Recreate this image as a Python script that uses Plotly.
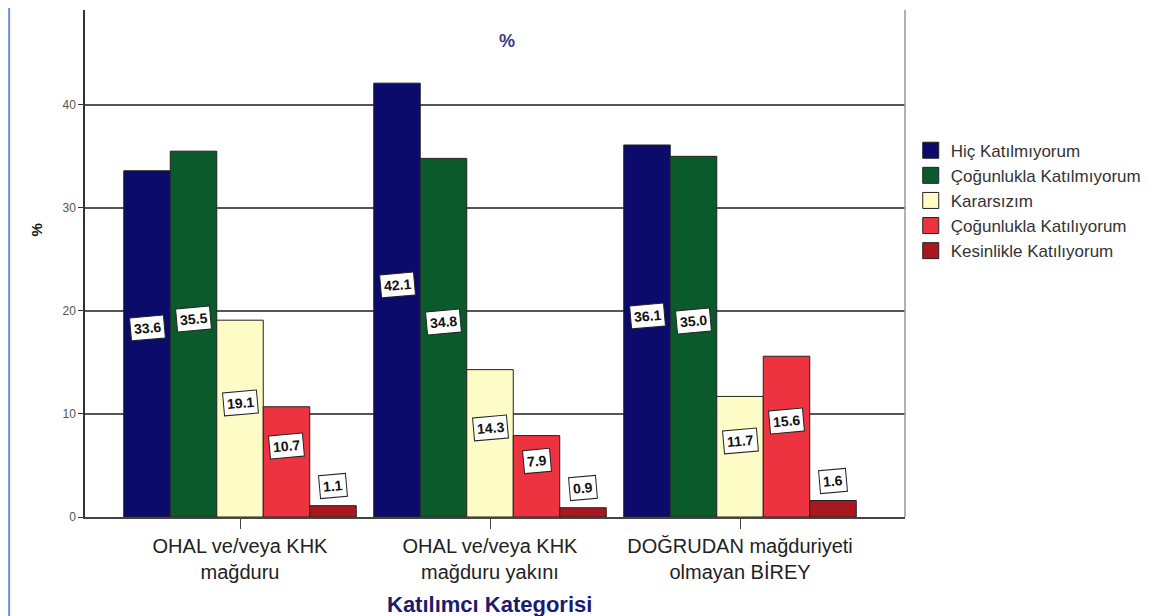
import plotly.graph_objects as go

categories = ["OHAL ve/veya KHK<br>mağduru", "OHAL ve/veya KHK<br>mağduru yakını", "DOĞRUDAN mağduriyeti<br>olmayan BİREY"]
series_names = ["Hiç Katılmıyorum", "Çoğunlukla Katılmıyorum", "Kararsızım", "Çoğunlukla Katılıyorum", "Kesinlikle Katılıyorum"]
hic = [33.6, 42.1, 36.1]
cogunlukla_kat_mi = [35.5, 34.8, 35.0]
kararsizim = [19.1, 14.3, 11.7]
cogunlukla_kat = [10.7, 7.9, 15.6]
kesinlikle = [1.1, 0.9, 1.6]
y_ticks = [0, 10, 20, 30, 40]

colors = ["#0b0b6c", "#0b5a2c", "#fdfbc6", "#ee3340", "#a8181e"]
all_series = [hic, cogunlukla_kat_mi, kararsizim, cogunlukla_kat, kesinlikle]

fig = go.Figure()
xs = list(range(len(categories)))
for name, vals, col in zip(series_names, all_series, colors):
    fig.add_trace(go.Bar(
        x=xs, y=vals, name=name, showlegend=False,
        marker=dict(color=col, line=dict(color="#222", width=1)),
    ))
# legend proxies with larger square swatches
for name, col in zip(series_names, colors):
    fig.add_trace(go.Scatter(
        x=[None], y=[None], mode="markers", name=name,
        marker=dict(symbol="square", size=16, color=col, line=dict(color="#222", width=1)),
    ))

n = len(all_series)
group_width = 0.93
bw = group_width / n
annotations = []
for si, vals in enumerate(all_series):
    for ci, v in enumerate(vals):
        xpos = ci - group_width / 2 + bw * (si + 0.5)
        ypos = v + 1.9 if v < 3 else v / 2 + 1.5
        annotations.append(dict(
            x=xpos, y=ypos, xref="x", yref="y", text=f"<b>{v:.1f}</b>", showarrow=False,
            font=dict(family="Arial", size=14, color="#111"), bgcolor="white",
            bordercolor="#222", borderwidth=1, borderpad=3, textangle=-5,
        ))

annotations.append(dict(x=0.515, y=0.962, xref="paper", yref="paper", text="<b>%</b>", showarrow=False,
                        font=dict(family="Arial", size=18, color="#3a3a8a")))
annotations.append(dict(x=-0.072, y=0.566, xref="paper", yref="paper", text="<b>%</b>", showarrow=False,
                        textangle=-90, font=dict(family="Arial", size=15, color="#111")))
annotations.append(dict(x=0.493, y=-0.172, xref="paper", yref="paper", text="<b>Katılımcı Kategorisi</b>",
                        showarrow=False, yanchor="middle",
                        font=dict(family="Arial", size=22, color="#1c1c6e")))

fig.update_layout(
    width=1160, height=608,
    paper_bgcolor="white", plot_bgcolor="white",
    margin=dict(l=77, r=263, t=2, b=99),
    barmode="group", bargap=1 - group_width, bargroupgap=0,
    font=dict(family="Arial", color="#222"),
    annotations=annotations,
    legend=dict(x=1.007, y=0.758, xanchor="left", yanchor="top",
                font=dict(family="Arial", size=17, color="#333"),
                bgcolor="rgba(0,0,0,0)", tracegroupgap=0, itemwidth=30),
    showlegend=True,
    shapes=[
        dict(type="line", xref="paper", yref="paper", x0=1, x1=1, y0=0, y1=1, line=dict(color="#999", width=1.5)),
        dict(type="line", xref="paper", yref="paper", x0=-0.0925, x1=-0.0925, y0=-0.25, y1=1.03,
             line=dict(color="#6a8fd0", width=2)),
    ],
)
fig.update_xaxes(
    tickmode="array", tickvals=xs, ticktext=categories, range=[-0.62, 2.66],
    showline=True, linecolor="#444", linewidth=1.5, ticks="outside", ticklen=10, tickcolor="#444",
    tickfont=dict(family="Arial", size=20, color="#222"), showgrid=False,
)
fig.update_yaxes(
    range=[0, 49.2], tickvals=y_ticks, showline=True, linecolor="#333", linewidth=1.5,
    ticks="outside", ticklen=5, tickcolor="#333", tickfont=dict(family="Arial", size=12, color="#555"),
    showgrid=True, gridcolor="#555", gridwidth=1.5, zeroline=False,
)

fig.write_html("out.html")
